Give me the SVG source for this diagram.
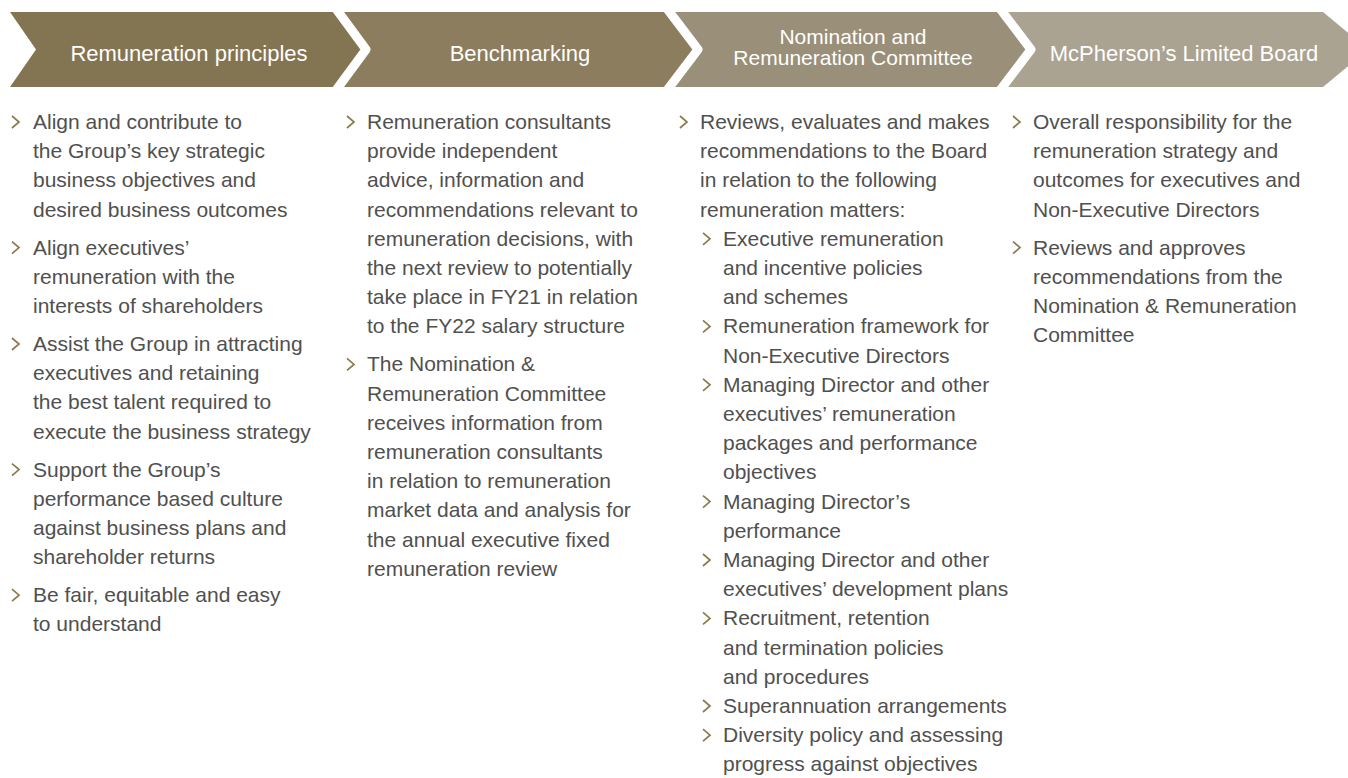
<svg xmlns="http://www.w3.org/2000/svg" xmlns:xlink="http://www.w3.org/1999/xlink" width="1348" height="778" viewBox="0 0 1348 778">
<style>
.hd{font-family:"Liberation Sans",Arial,Helvetica,sans-serif;font-size:22px;fill:#ffffff;text-anchor:middle}
.hd2{font-family:"Liberation Sans",Arial,Helvetica,sans-serif;font-size:21px;fill:#ffffff;text-anchor:middle}
.tx{font-family:"Liberation Sans",Arial,Helvetica,sans-serif;font-size:21px;fill:#505050}
.sep{fill:none;stroke:#ffffff;stroke-width:9;stroke-linejoin:round;stroke-linecap:butt}
.bl{fill:none;stroke:#8b7a4d;stroke-width:1.7;stroke-linejoin:miter}
</style>
<defs>
<path id="bul" class="bl" d="M0,-13 L7,-7 L0,-1"/>
</defs>
<rect width="1348" height="778" fill="#ffffff"/>
<g id="chevrons">
<polygon points="990,12 1323,12 1368,49.5 1323,87 990,87" fill="#aaa392"/>
<polygon points="660,12 998,12 1031,49.5 998,87 660,87" fill="#9a8f78"/>
<polygon points="330,12 665,12 698,49.5 665,87 330,87" fill="#8b7d5d"/>
<polygon points="10,12 334,12 366,49.5 334,87 10,87 36,49.5" fill="#847552"/>
<polyline class="sep" points="334,6 366,49.5 334,93"/>
<polyline class="sep" points="665,6 698,49.5 665,93"/>
<polyline class="sep" points="998,6 1031,49.5 998,93"/>
</g>
<g id="node-principles">
<text class="hd" x="189" y="61">Remuneration principles</text>
<use xlink:href="#bul" href="#bul" x="12" y="129"/>
<use xlink:href="#bul" href="#bul" x="12" y="254.6"/>
<use xlink:href="#bul" href="#bul" x="12" y="351"/>
<use xlink:href="#bul" href="#bul" x="12" y="476.6"/>
<use xlink:href="#bul" href="#bul" x="12" y="602.2"/>
<text class="tx" x="33" y="129">Align and contribute to</text>
<text class="tx" x="33" y="158.2">the Group’s key strategic</text>
<text class="tx" x="33" y="187.4">business objectives and</text>
<text class="tx" x="33" y="216.6">desired business outcomes</text>
<text class="tx" x="33" y="254.6">Align executives’</text>
<text class="tx" x="33" y="283.8">remuneration with the</text>
<text class="tx" x="33" y="313">interests of shareholders</text>
<text class="tx" x="33" y="351">Assist the Group in attracting</text>
<text class="tx" x="33" y="380.2">executives and retaining</text>
<text class="tx" x="33" y="409.4">the best talent required to</text>
<text class="tx" x="33" y="438.6">execute the business strategy</text>
<text class="tx" x="33" y="476.6">Support the Group’s</text>
<text class="tx" x="33" y="505.8">performance based culture</text>
<text class="tx" x="33" y="535">against business plans and</text>
<text class="tx" x="33" y="564.2">shareholder returns</text>
<text class="tx" x="33" y="602.2">Be fair, equitable and easy</text>
<text class="tx" x="33" y="631.4">to understand</text>
</g>
<g id="node-benchmarking">
<text class="hd" x="520" y="61">Benchmarking</text>
<use xlink:href="#bul" href="#bul" x="347" y="129"/>
<use xlink:href="#bul" href="#bul" x="347" y="371.4"/>
<text class="tx" x="367" y="129">Remuneration consultants</text>
<text class="tx" x="367" y="158.2">provide independent</text>
<text class="tx" x="367" y="187.4">advice, information and</text>
<text class="tx" x="367" y="216.6">recommendations relevant to</text>
<text class="tx" x="367" y="245.8">remuneration decisions, with</text>
<text class="tx" x="367" y="275">the next review to potentially</text>
<text class="tx" x="367" y="304.2">take place in FY21 in relation</text>
<text class="tx" x="367" y="333.4">to the FY22 salary structure</text>
<text class="tx" x="367" y="371.4">The Nomination &amp;</text>
<text class="tx" x="367" y="400.6">Remuneration Committee</text>
<text class="tx" x="367" y="429.8">receives information from</text>
<text class="tx" x="367" y="459">remuneration consultants</text>
<text class="tx" x="367" y="488.2">in relation to remuneration</text>
<text class="tx" x="367" y="517.4">market data and analysis for</text>
<text class="tx" x="367" y="546.6">the annual executive fixed</text>
<text class="tx" x="367" y="575.8">remuneration review</text>
</g>
<g id="node-committee">
<text class="hd2" x="853" y="44">Nomination and</text>
<text class="hd2" x="853" y="65">Remuneration Committee</text>
<use xlink:href="#bul" href="#bul" x="680" y="129"/>
<use xlink:href="#bul" href="#bul" x="703" y="245.8"/>
<use xlink:href="#bul" href="#bul" x="703" y="333.4"/>
<use xlink:href="#bul" href="#bul" x="703" y="391.8"/>
<use xlink:href="#bul" href="#bul" x="703" y="508.6"/>
<use xlink:href="#bul" href="#bul" x="703" y="567"/>
<use xlink:href="#bul" href="#bul" x="703" y="625.4"/>
<use xlink:href="#bul" href="#bul" x="703" y="713"/>
<use xlink:href="#bul" href="#bul" x="703" y="742.2"/>
<text class="tx" x="700" y="129">Reviews, evaluates and makes</text>
<text class="tx" x="700" y="158.2">recommendations to the Board</text>
<text class="tx" x="700" y="187.4">in relation to the following</text>
<text class="tx" x="700" y="216.6">remuneration matters:</text>
<text class="tx" x="723" y="245.8">Executive remuneration</text>
<text class="tx" x="723" y="275">and incentive policies</text>
<text class="tx" x="723" y="304.2">and schemes</text>
<text class="tx" x="723" y="333.4">Remuneration framework for</text>
<text class="tx" x="723" y="362.6">Non-Executive Directors</text>
<text class="tx" x="723" y="391.8">Managing Director and other</text>
<text class="tx" x="723" y="421">executives’ remuneration</text>
<text class="tx" x="723" y="450.2">packages and performance</text>
<text class="tx" x="723" y="479.4">objectives</text>
<text class="tx" x="723" y="508.6">Managing Director’s</text>
<text class="tx" x="723" y="537.8">performance</text>
<text class="tx" x="723" y="567">Managing Director and other</text>
<text class="tx" x="723" y="596.2">executives’ development plans</text>
<text class="tx" x="723" y="625.4">Recruitment, retention</text>
<text class="tx" x="723" y="654.6">and termination policies</text>
<text class="tx" x="723" y="683.8">and procedures</text>
<text class="tx" x="723" y="713">Superannuation arrangements</text>
<text class="tx" x="723" y="742.2">Diversity policy and assessing</text>
<text class="tx" x="723" y="771.4">progress against objectives</text>
</g>
<g id="node-board">
<text class="hd" x="1184" y="61">McPherson’s Limited Board</text>
<use xlink:href="#bul" href="#bul" x="1013" y="129"/>
<use xlink:href="#bul" href="#bul" x="1013" y="254.6"/>
<text class="tx" x="1033" y="129">Overall responsibility for the</text>
<text class="tx" x="1033" y="158.2">remuneration strategy and</text>
<text class="tx" x="1033" y="187.4">outcomes for executives and</text>
<text class="tx" x="1033" y="216.6">Non-Executive Directors</text>
<text class="tx" x="1033" y="254.6">Reviews and approves</text>
<text class="tx" x="1033" y="283.8">recommendations from the</text>
<text class="tx" x="1033" y="313">Nomination &amp; Remuneration</text>
<text class="tx" x="1033" y="342.2">Committee</text>
</g>
</svg>
